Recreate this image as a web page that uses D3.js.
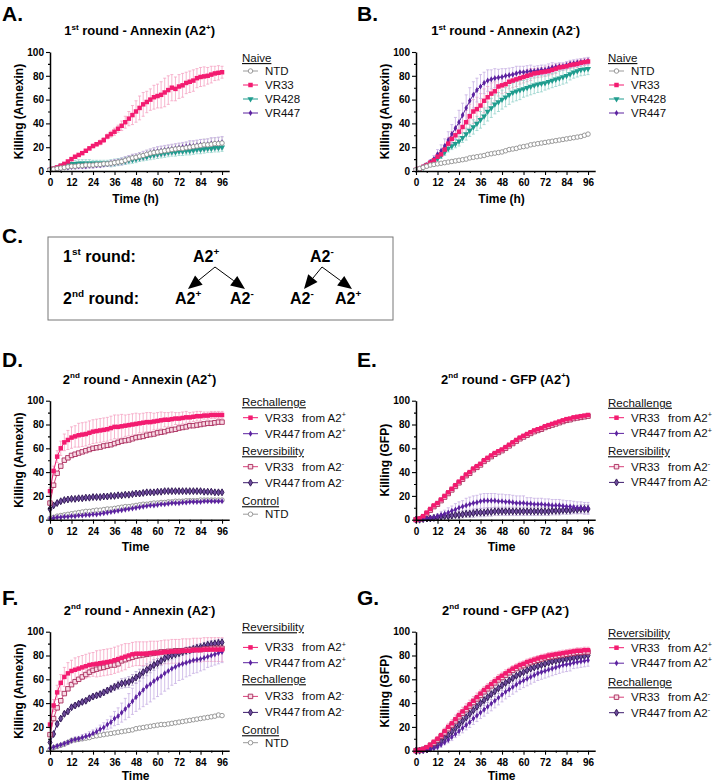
<!DOCTYPE html>
<html>
<head>
<meta charset="utf-8">
<script src="https://cdn.jsdelivr.net/npm/d3@7"></script>
<style>
  body { margin: 0; background: #fff; }
  svg { font-family: Arial, "Liberation Sans", sans-serif; }
</style>
</head>
<body>
<svg id="fig" width="716" height="783"></svg>
<script>
// ---- data: % killing every 2 h (mean, sd) ----
const hours = [0,2,4,6,8,10,12,14,16,18,20,22,
  24,26,28,30,32,34,36,38,40,42,44,46,
  48,50,52,54,56,58,60,62,64,66,68,70,
  72,74,76,78,80,82,84,86,88,90,92,94,
  96];
const xTicks = [0, 12, 24, 36, 48, 60, 72, 84, 96];
const yTicks = [0, 20, 40, 60, 80, 100];

// A: 1st round, Annexin, A2+ targets
const aNTD = [1,1.5,2,2.5,3,3.5,4,4,4.5,4.5,5,5,
  5,5.5,5.5,6,6,6.5,7,7.5,8,9,10,11,
  11.5,12.5,13,14,15,15.5,16,16.5,17,17.5,18,18.5,
  19,19,19.5,20,20.5,21,21.5,22,22,22.5,23,23,
  23.5];
const aNTDsd = [1,1,1,1,1.5,1.5,1.5,2,2,2,2,2,
  2,2,2,2,2,2,2,2.5,2.5,3,3,3,
  3,3,3.5,3.5,3.5,4,4,4,4,4,4,4,
  4,4,4.5,4.5,4.5,4.5,5,5,5,5,5,5,
  5];
const aVR33 = [1,2,3,4.5,6,8,10,12,13.5,15,17,19,
  21,22.5,24,26,29,31,33,35.5,38,41,44,47,
  50,53,56,58,60,62,63,64,66,68,70,69,
  71,72,74,75,76,78,79,79.5,80,81,82,82.5,
  83];
const aVR33sd = [1,1,1,1,1,1,1,1,1,1,1,1.5,
  1.5,1.5,2,2,2,2.5,3,3,4,5,6,8,
  9,10,10,9,9,10,10,11,12,12,11,10,
  10,10,9,9,9,8,8,8,7,7,6,6,
  5];
const aVR428 = [1,2,3,4,5,5.5,6,6,6.5,6.5,6.5,6.5,
  6.5,6.5,6.5,6.5,6.5,6.5,7,7.5,8,8.5,9,9.5,
  10,11,11.5,12,13,13.5,14,14.5,15,15.5,16,16,
  16.5,16.5,17,17,17.5,18,18,18.5,19,19,19.5,19.5,
  20];
const aVR428sd = [1,1,1.5,2,2,2.5,3,3,3,3,3,3,
  2.5,2.5,2.5,2.5,2.5,3,3,3,3,3,3,3,
  3,3,3,3,3.5,3.5,3.5,3.5,3.5,3.5,3.5,3.5,
  3.5,3.5,3.5,3.5,3.5,3.5,3.5,3.5,3.5,3.5,3.5,3.5,
  3.5];
const aVR447 = [1,1.5,2,2.5,3,3,3.5,3.5,4,4,4,4.5,
  4.5,5,5,5.5,6,6.5,7,7.5,8,9,10,11,
  11.5,12.5,13,14,15,16,16.5,17,17.5,18,18.5,19,
  19.5,20,20.5,21,21,21.5,22,22,22.5,23,23,23.5,
  24];
const aVR447sd = [1,1,1,1,1,1.5,1.5,1.5,2,2,2,2,
  2,2,2,2,2,2.5,2.5,2.5,3,3,3,3,
  3,3,3.5,3.5,3.5,3.5,4,4,4,4,4,4,
  4,4,4,4.5,4.5,4.5,4.5,4.5,4.5,5,5,5,
  5];

// B: 1st round, Annexin, A2- targets
const bNTD = [1,2,3,4,5,5.5,6,6.5,7,7.5,8,8.5,
  9,9.5,10,11,11.5,12,12.5,13,14,14.5,15,15.5,
  16,17,18,18.5,19,20,20.5,21,22,22.5,23,23.5,
  24,24.5,25,25.5,26,26.5,27,27.5,28,28.5,29,30,
  31];
const bVR33 = [1,2,3.5,5,7,9,12,14,18,23,27,30,
  33,37,41,46,50,52,55,59,62,65,67,71,
  72,73,75,76,77,78,79,80,81,82,82.5,83,
  83.5,84,85,86,87,87.5,88,89,89.5,90,91,91.5,
  92];
const bVR33sd = [0.5,1,1,1.5,2,2,3,3,4,5,6,7,
  8,9,10,10,10,10,10,10,9,9,8,8,
  7,7,6,6,6,5,5,5,5,4,4,4,
  4,4,4,4,3,3,3,3,3,3,3,3,
  3];
const bVR428 = [1,2,3,5,6.5,8.5,10.5,13,16,19,21,23,
  25,28,31,34,37,40,43,46,50,53,56,58,
  60,62,64,66,67,68,69,70,71,72,73,73.5,
  74,75,76,77,78,79,80,81.5,83,84,85,85.5,
  86];
const bVR428sd = [0.5,1,1,1,1.5,2,2,2.5,3,3,3,3.5,
  4,4,5,5,6,6,7,7,8,8,8,8,
  8,8,8,8,8,8,7,7,7,7,7,7,
  6,6,6,6,6,6,6,5,5,5,5,5,
  5];
const bVR447 = [1,2,3.5,5,7.5,10,14,17,21,26,31,36,
  41,47,53,59,64,68,71,74,76,77,78,78.5,
  79,80,80.5,81,82,83,83,83.5,84,84,84.5,85,
  85,86,87,87.5,88,88,89,90,90.5,91,91.5,92,
  92.5];
const bVR447sd = [0.5,1,1,1.5,2,3,4,5,6,7,8,9,
  10,10,11,11,11,10,10,9,9,8,8,7,
  7,6,6,6,6,5,5,5,5,4,4,4,
  4,4,4,3,3,3,3,3,3,3,3,3,
  3];

// D: 2nd round, Annexin, A2+ targets
const dVR33p = [24,41,53,60,65,67,69,70,71,71.5,72,73,
  74,74.5,75,75.5,76,77,78,78,78.5,79,79.5,80,
  80.5,81,81.5,82,82,82.5,83,83.5,84,84,84.5,85,
  85,85.5,86,86,86.5,87,87,87.5,87.5,88,88,88,
  88];
const dVR33psd = [3,4,5,6,7,8,9,9,10,10,10,10,
  10,10,10,10,10,10,10,10,10,9,9,9,
  9,8,8,8,8,7,7,7,6,6,6,5,
  5,5,5,4,4,4,4,3,3,3,3,3,
  3];
const dVR447p = [1,1.5,2,2,2.5,2.5,3,3,3.5,3.5,4,4,
  4.5,4.5,5,5.5,6,6.5,7,7.5,8,8.5,9,9.5,
  10,10.5,11,11.5,12,12,12.5,13,13,13.5,14,14,
  14,14.5,14.5,15,15,15,15,15.5,15.5,15.5,15.5,15.5,
  15.5];
const dVR33m = [14,29,39,45,50,52,54,55,56,57,58,59,
  60,60.5,61,62,62.5,63,64,65,66,66.5,67,68,
  69,69.5,70,71,71.5,72,73,73.5,74,75,75.5,76,
  77,77.5,78,79,79,79.5,80,80.5,81,81,81.5,82,
  82];
const dVR447m = [9,12,14,15.5,16.5,17,17.5,17.5,18,18,18.5,18.5,
  19,19,19,19.5,19.5,20,20,20.5,20.5,21,21,21.5,
  22,22,22.5,23,23,23,23.5,23.5,24,24,24,24,
  24,24,24,24,24,24,24,23.5,23.5,23.5,23,23,
  23];
const dNTD = [1,2,3,3.5,4,4.5,5,5.5,6,6.5,7,7,
  7.5,8,8,8.5,9,9,9.5,10,10.5,11,11,11.5,
  12,12.5,13,13,13.5,14,14,14.5,14.5,15,15,15.5,
  15.5,15.5,16,16,16,16,16.5,16.5,16.5,16.5,16.5,16.5,
  16.5];

// E: 2nd round, GFP, A2+ targets
const eVR33p = [0,1,3,6,9,12,14,17,20,23,26,29,
  32,35,38,40,43,45,47,50,52,54,56,57.5,
  59,61,63,65,67,69,70.5,72,73.5,75,76,77,
  78.5,79.5,80.5,81.5,82.5,83.5,84.5,85,86,86.5,87,87.5,
  88];
const eVR447p = [0,0,0.5,1,1.5,2,3,4,5,6,7.5,8.5,
  10,11,12,13,14,14.5,15.5,16,16,16,16,15.5,
  15.5,15,15,14.5,14,14,14,13.5,13.5,13,13,13,
  12.5,12.5,12,12,12,11.5,11,11,10.5,10,10,9.5,
  9.5];
const eVR447psd = [0.5,0.5,1,1,1.5,2,2,3,3,4,4,5,
  5,5,6,6,6,6,6,6,6,6,6,6,
  6,6,6,6,6,6,6,5,5,5,5,5,
  5,5,5,5,5,5,5,5,5,5,5,5,
  5];
const eVR33m = [0,0.5,2,5,8,11,13,16,19,22,25,28,
  31,34,37,39,42,44,46,49,51,53,55,56.5,
  58,60,62,64,66,68,69.5,71,72.5,74,75,76,
  77.5,78.5,79.5,80.5,81.5,82.5,83.5,84,85,85.5,86,86.5,
  87];
const eVR447m = [0,0,0.5,1,1,1.5,2,2.5,3,3,3.5,4,
  4,4.5,5,5,5.5,6,6,6,6.5,6.5,7,7,
  7,7,7,7,7,7,7,7,7,7,7,7,
  7,7,7.5,7.5,7.5,8,8,8,8.5,8.5,9,9,
  9];
const eVR447msd = [0.5,0.5,1,1,1,1.5,1.5,2,2,2,2.5,2.5,
  3,3,3,3,3.5,3.5,3.5,3.5,3.5,3.5,3.5,3.5,
  3.5,3.5,3.5,3.5,3.5,3.5,3.5,3.5,3.5,3.5,3.5,3.5,
  3.5,3.5,3.5,3.5,3.5,3.5,3.5,3.5,3.5,3.5,3.5,3.5,
  3.5];

// F: 2nd round, Annexin, A2- targets
const fVR33p = [22,38,49,57,62,65,67,68,69,70,71,72,
  72.5,73,73.5,74,74.5,75,76,77,78,79,80,81,
  81.5,81.5,81.5,81.5,82,82,82,82.5,83,83,83.5,83.5,
  83.5,84,84,84,84.5,84.5,84.5,85,85,85,85,85,
  85];
const fVR33psd = [3,5,6,7,8,9,9,10,10,10,10,10,
  10,11,11,11,11,11,11,11,11,11,10,10,
  10,10,10,10,10,10,10,10,10,10,10,10,
  10,10,10,10,10,10,10,10,10,10,10,10,
  10];
const fVR447p = [2,3,4,5,6,7,8.5,9.5,10,11,12,13,
  14.5,16,18,19.5,22,24,27,29,32,35,38,41.5,
  45,48,51,54,56,58.5,60.5,62.5,65,67,69,70.5,
  72,73,74,75,76,76.5,77,78,79,80,81,82,
  83];
const fVR447psd = [1,1,1,1,1.5,1.5,2,2,2,2.5,2.5,3,
  3,3,3.5,4,4,5,6,7,8,9,10,11,
  12,13,14,15,15,15,15,15,15,15,14,14,
  13,13,12,12,11,11,10,10,9,9,9,9,
  9];
const fVR33m = [13.5,27,36,42,48,52,55.5,58,60,62,64,66,
  67.5,68.5,69.5,70,71,72,72,73,75.5,76.5,77.5,78.5,
  79.5,80,80.5,81,81.5,82,82.5,83,83,83.5,83.5,84,
  84,84,84.5,84.5,85,85,85,85.5,85.5,86,86,86,
  86];
const fVR447m = [7,14,22.5,27,31,33,36.5,38,39.5,41,42,44,
  45.5,46.5,47.5,49,50.5,52,53.5,55,56.5,57,57.7,59.5,
  61.5,63.5,66,68,70,72,73.5,75.5,77.5,79,80,81,
  82,83,84,84.5,85.5,86.5,87,88,89,89.5,90,90.5,
  91];
const fVR447msd = [1,1,1.5,1.5,2,2,2,2,2,2,2,2,
  2,2,2.5,2.5,2.5,3,3,3.5,4,4,4.5,4.5,
  5,5,5,5,4.5,4.5,4,4,4,3.5,3.5,3,
  3,3,3,3,3,3,3,3,3,3,3,3,
  3];
const fNTD = [1,2.5,3.5,4.5,5.5,7,8.5,9,9.5,10,10.5,11,
  12,12.5,13,13.5,14,14.5,15,15.5,16,16.5,17,17.5,
  18.5,19,19.5,20,20.5,21,21.5,22,22,22.5,23,23.5,
  24,24.5,25,25.5,26,26.5,27,27.5,28,28.5,29,30,
  29.5];

// G: 2nd round, GFP, A2- targets
const gVR33p = [0,0.5,1.5,3,5,7.5,10,13,16.5,20,23,26.5,
  30,33,36,39,42,45,48,51,53.5,56,58.5,61,
  63,65,67,69,70.5,72,73,74.5,75.5,76.5,77.5,78.5,
  79,80,80.5,81,81.5,82,82.5,83,83.5,84,84,84.5,
  84.5];
const gVR33psd = [0.5,0.5,1,1,1.5,1.5,2,2,2.5,3,3,3.5,
  3.5,3.5,3.5,3.5,3.5,3.5,3,3,3,3,3,3,
  3,3,2.5,2.5,2.5,2.5,2.5,2.5,2.5,2.5,2.5,2.5,
  2.5,2.5,2.5,2.5,2.5,2.5,2.5,2.5,2.5,2.5,2.5,2.5,
  2.5];
const gVR447p = [0,0,0,0.5,1,2,3,5,7,9,11.5,14,
  16.5,19,21.5,24,27,29.5,32,34.5,37,39.5,42,44.5,
  47,49.5,51.5,53.5,55.5,57.5,59,60.5,62,63.5,65,66,
  67,68,69,70,71,72,72.5,73,74,74.5,75,75.5,
  76];
const gVR447psd = [1,1,1,1,1,1,1.5,2,2,2.5,3,3,
  3.5,4,4,4.5,5,5,5,5.5,5.5,6,6,6,
  6,6,6,6,6,6,6,6,6,6,6,6,
  6,6,6,6,6,6,6,6,5,5,5,5,
  5];
const gVR33m = [0,0.5,1,2.5,4.5,6.5,9,12,15,18.5,21.5,25,
  28.5,31.5,34.5,37.5,40.5,43.5,46.5,49.5,52,54.5,57,59.5,
  61.5,63.5,65.5,67.5,69,70.5,71.5,73,74,75,76,77,
  78,78.5,79,79.5,80,80.5,81,81.5,82,82.5,82.5,83,
  83];
const gVR447m = [0,0,0.5,1,2,3.5,5.5,8,10.5,13,16,19,
  22,25,28,31,34,37,40,42.5,45,47.5,50,52.5,
  55,57,59,61,63,64.5,66,67.5,69,70,71,72,
  73,74,75,75.5,76,76.5,77,77.5,78,78.5,79,79.5,
  80];
const gVR447msd = [1,1,1,1,1,1.5,1.5,2,2,2.5,3,3,
  3.5,3.5,4,4,4,4.5,4.5,4.5,4.5,4.5,4.5,4.5,
  4.5,4.5,4.5,4.5,4.5,4.5,4.5,4.5,4.5,4.5,4.5,4.5,
  4.5,4.5,4.5,4.5,4.5,4.5,4.5,4.5,4.5,4.5,4.5,4.5,
  4.5];

// ---- look of each condition ----
const styles = {
  ntd:    {line: "#9b9b9b", err: "#cfcfcf", shape: "circle",  size: 16, fill: "#fff",    stroke: "#8e8e8e"},
  vr33:   {line: "#f31b70", err: "#f5a3c3", shape: "square",  size: 20, fill: "#f31b70", stroke: "none"},
  vr428:  {line: "#1f9c8e", err: "#95d3cb", shape: "tri",     size: 16, fill: "#1f9c8e", stroke: "none", flip: true},
  vr447:  {line: "#5c22a0", err: "#c6b0e3", shape: "diamond", size: 11, fill: "#5c22a0", stroke: "none"},
  vr33m:  {line: "#d8407a", err: "#e2a0ba", shape: "square",  size: 20, fill: "#f9dbe6", stroke: "#a8295a"},
  vr447m: {line: "#3e1d6e", err: "#b6a3cf", shape: "diamond", size: 14, fill: "#6e4c9c", stroke: "#2b124f"}
};
const shapes = {circle: d3.symbolCircle, square: d3.symbolSquare, tri: d3.symbolTriangle, diamond: d3.symbolDiamond};

const legAB = [{head: "Naive"}, {s: "ntd", name: "NTD"}, {s: "vr33", name: "VR33"},
               {s: "vr428", name: "VR428"}, {s: "vr447", name: "VR447"}];
const legDE = [{head: "Rechallenge"}, {s: "vr33", name: "VR33", from: "+"}, {s: "vr447", name: "VR447", from: "+"},
               {head: "Reversibility"}, {s: "vr33m", name: "VR33", from: "-"}, {s: "vr447m", name: "VR447", from: "-"},
               {head: "Control"}, {s: "ntd", name: "NTD"}];
const legFG = [{head: "Reversibility"}, {s: "vr33", name: "VR33", from: "+"}, {s: "vr447", name: "VR447", from: "+"},
               {head: "Rechallenge"}, {s: "vr33m", name: "VR33", from: "-"}, {s: "vr447m", name: "VR447", from: "-"},
               {head: "Control"}, {s: "ntd", name: "NTD"}];

const panels = [
  {letter: "A.", x: 50, y: 52, title: ["1", "^st", " round - Annexin (A2", "^+", ")"],
   yLabel: "Killing (Annexin)", xLabel: "Time (h)", xLabelDy: 32, legend: legAB, rows: [10, 23, 37, 51, 65], letterY: 21,
   series: [{s: "ntd", v: aNTD, sd: aNTDsd}, {s: "vr33", v: aVR33, sd: aVR33sd},
            {s: "vr428", v: aVR428, sd: aVR428sd}, {s: "vr447", v: aVR447, sd: aVR447sd}]},
  {letter: "B.", x: 416, y: 52, title: ["1", "^st", " round - Annexin (A2", "^-", ")"],
   yLabel: "Killing (Annexin)", xLabel: "Time (h)", xLabelDy: 32, legend: legAB, rows: [10, 23, 37, 51, 65], letterY: 21,
   series: [{s: "ntd", v: bNTD}, {s: "vr33", v: bVR33, sd: bVR33sd},
            {s: "vr428", v: bVR428, sd: bVR428sd}, {s: "vr447", v: bVR447, sd: bVR447sd}]},
  {letter: "D.", x: 50, y: 400.7, title: ["2", "^nd", " round - Annexin (A2", "^+", ")"],
   yLabel: "Killing (Annexin)", xLabel: "Time", xLabelDy: 31, legend: legDE, rows: [5.5, 21, 37, 54.5, 70, 86, 104.5, 117.5], letterY: 367,
   series: [{s: "vr33", v: dVR33p, sd: dVR33psd}, {s: "vr447", v: dVR447p},
            {s: "vr33m", v: dVR33m}, {s: "vr447m", v: dVR447m}, {s: "ntd", v: dNTD}]},
  {letter: "E.", x: 416, y: 400.7, title: ["2", "^nd", " round - GFP (A2", "^+", ")"],
   yLabel: "Killing (GFP)", xLabel: "Time", xLabelDy: 31, legend: legDE.slice(0, 6), rows: [6, 21, 36.7, 54.5, 70, 85.7], letterY: 367,
   series: [{s: "vr33", v: eVR33p}, {s: "vr447", v: eVR447p, sd: eVR447psd},
            {s: "vr33m", v: eVR33m}, {s: "vr447m", v: eVR447m, sd: eVR447msd}]},
  {letter: "F.", x: 50, y: 631.7, title: ["2", "^nd", " round - Annexin (A2", "^-", ")"],
   yLabel: "Killing (Annexin)", xLabel: "Time", xLabelDy: 29, legend: legFG, rows: [-0.5, 19.7, 35, 51.5, 68.7, 84.7, 102.5, 115], letterY: 605,
   series: [{s: "vr33", v: fVR33p, sd: fVR33psd}, {s: "vr447", v: fVR447p, sd: fVR447psd},
            {s: "vr33m", v: fVR33m}, {s: "vr447m", v: fVR447m, sd: fVR447msd}, {s: "ntd", v: fNTD}]},
  {letter: "G.", x: 416, y: 631.7, title: ["2", "^nd", " round - GFP (A2", "^-", ")"],
   yLabel: "Killing (GFP)", xLabel: "Time", xLabelDy: 29, legend: legFG.slice(0, 6), rows: [5.5, 20, 35.5, 54.5, 69.5, 85], letterY: 605,
   series: [{s: "vr33", v: gVR33p, sd: gVR33psd}, {s: "vr447", v: gVR447p, sd: gVR447psd},
            {s: "vr33m", v: gVR33m}, {s: "vr447m", v: gVR447m, sd: gVR447msd}]}
];

const svg = d3.select("#fig");
const W = 179.2, H = 119;

// text made of parts, a leading ^ marks a superscript part
function rich(sel, parts, size) {
  let up = false;
  parts.forEach((p) => {
    const sup = p[0] === "^";
    const t = sel.append("tspan").text(sup ? p.slice(1) : p);
    if (sup) {
      t.attr("font-size", size * 0.62).attr("dy", up ? 0 : -size * 0.42);
    } else if (up) {
      t.attr("dy", size * 0.42);
    }
    up = sup;
  });
}

function marker(g, st, cx, cy) {
  g.append("path")
    .attr("d", d3.symbol(shapes[st.shape], st.size)())
    .attr("transform", `translate(${cx},${cy})` + (st.flip ? " rotate(180)" : ""))
    .attr("fill", st.fill)
    .attr("stroke", st.stroke)
    .attr("stroke-width", 0.9);
}

function drawPanel(p) {
  const g = svg.append("g").attr("transform", `translate(${p.x},${p.y})`);
  const x = d3.scaleLinear().domain([0, 100]).range([0, W]);
  const y = d3.scaleLinear().domain([0, 100]).range([H, 0]);

  // error bars below everything
  p.series.forEach((ser) => {
    if (!ser.sd) return;
    const st = styles[ser.s];
    const eg = g.append("g").attr("stroke", st.err).attr("stroke-width", 0.8).attr("fill", "none");
    ser.v.forEach((v, i) => {
      const cx = x(hours[i]), lo = y(v - ser.sd[i]), hi = y(v + ser.sd[i]);
      eg.append("path").attr("d", `M${cx},${lo}V${hi}M${cx - 1.5},${hi}h3M${cx - 1.5},${lo}h3`);
    });
  });

  // lines and markers, first legend entry ends on top
  const line = d3.line().x((d, i) => x(hours[i])).y((d) => y(d));
  p.series.slice().reverse().forEach((ser) => {
    const st = styles[ser.s];
    g.append("path").attr("d", line(ser.v)).attr("fill", "none")
      .attr("stroke", st.line).attr("stroke-width", 1);
    const mg = g.append("g");
    ser.v.forEach((v, i) => marker(mg, st, x(hours[i]), y(v)));
  });

  // axes
  const yAxis = g.append("g")
    .call(d3.axisLeft(y).tickValues(yTicks).tickSize(4).tickSizeOuter(0).tickPadding(2));
  g.append("g").call(d3.axisLeft(y).tickValues([10, 30, 50, 70, 90]).tickSize(2).tickFormat("")).select(".domain").remove();
  const xAxis = g.append("g").attr("transform", `translate(0,${H})`)
    .call(d3.axisBottom(x).tickValues(xTicks).tickSize(4).tickSizeOuter(0).tickPadding(4));
  g.append("g").attr("transform", `translate(0,${H})`)
    .call(d3.axisBottom(x).tickValues([6, 18, 30, 42, 54, 66, 78, 90]).tickSize(2).tickFormat(""))
    .select(".domain").remove();
  g.selectAll(".domain").attr("stroke", "#000").attr("stroke-width", 1.5);
  g.selectAll(".tick line").attr("stroke", "#000").attr("stroke-width", 1.1);
  [yAxis, xAxis].forEach((a) => a.selectAll("text")
    .attr("font-family", "Arial, 'Liberation Sans', sans-serif")
    .attr("font-size", 10).attr("font-weight", "bold").attr("fill", "#000"));

  // labels
  g.append("text").attr("transform", `translate(-31,${H / 2}) rotate(-90)`)
    .attr("text-anchor", "middle").attr("dy", "0.35em")
    .attr("font-size", 12).attr("font-weight", "bold").text(p.yLabel);
  g.append("text").attr("x", W / 2 - 4).attr("y", H + p.xLabelDy)
    .attr("text-anchor", "middle").attr("font-size", 12).attr("font-weight", "bold").text(p.xLabel);
  const t = g.append("text").attr("x", W / 2).attr("y", -17)
    .attr("text-anchor", "middle").attr("font-size", 13).attr("font-weight", "bold");
  rich(t, p.title, 13);
  svg.append("text").attr("x", p.x < 200 ? 2 : 357).attr("y", p.letterY)
    .attr("font-size", 21).attr("font-weight", "bold").text(p.letter);

  // legend
  p.legend.forEach((it, k) => {
    const by = p.rows[k];
    if (it.head) {
      g.append("text").attr("x", 192).attr("y", by).attr("font-size", 11.5)
        .attr("text-decoration", "underline").attr("fill", "#111").text(it.head);
      return;
    }
    const st = styles[it.s];
    g.append("line").attr("x1", 193).attr("x2", 208).attr("y1", by - 4).attr("y2", by - 4)
      .attr("stroke", st.line).attr("stroke-width", 1);
    marker(g, st, 200.5, by - 4);
    const lt = g.append("text").attr("x", 215).attr("y", by).attr("font-size", 11.5).attr("fill", "#111");
    lt.append("tspan").text(it.name);
    if (it.from) {
      const ft = lt.append("tspan").attr("x", 252);
      rich(ft, ["from A2", "^" + it.from], 11.5);
    }
  });
}

panels.forEach(drawPanel);

// ---- C: scheme of the two rounds ----
const c = svg.append("g");
svg.append("text").attr("x", 2).attr("y", 243).attr("font-size", 21).attr("font-weight", "bold").text("C.");
c.append("rect").attr("x", 48).attr("y", 237).attr("width", 345).attr("height", 83)
  .attr("fill", "none").attr("stroke", "#777").attr("stroke-width", 1);

function label(x, y, parts) {
  const t = c.append("text").attr("x", x).attr("y", y).attr("font-size", 16).attr("font-weight", "bold");
  rich(t, parts, 16);
}
label(63, 262, ["1", "^st", " round:"]);
label(63, 304, ["2", "^nd", " round:"]);
label(193, 262, ["A2", "^+"]);
label(310, 262, ["A2", "^-"]);
label(175, 304, ["A2", "^+"]);
label(230, 304, ["A2", "^-"]);
label(290, 304, ["A2", "^-"]);
label(335, 304, ["A2", "^+"]);

function arrow(x1, y1, x2, y2) {
  const a = Math.atan2(y2 - y1, x2 - x1), len = 14, half = 6;
  const bx = x2 - len * Math.cos(a), by = y2 - len * Math.sin(a);
  c.append("line").attr("x1", x1).attr("y1", y1).attr("x2", bx).attr("y2", by)
    .attr("stroke", "#000").attr("stroke-width", 1);
  c.append("path").attr("fill", "#000").attr("d",
    `M${x2},${y2}L${bx + half * Math.sin(a)},${by - half * Math.cos(a)}L${bx - half * Math.sin(a)},${by + half * Math.cos(a)}Z`);
}
arrow(215, 267, 188, 289);
arrow(215, 267, 245, 289);
arrow(322, 267, 304, 289);
arrow(322, 267, 352, 289);
</script>
</body>
</html>
